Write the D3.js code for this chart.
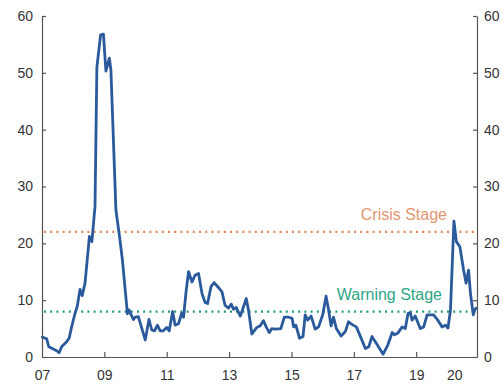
<!DOCTYPE html>
<html>
<head>
<meta charset="utf-8">
<script src="https://cdn.jsdelivr.net/npm/d3@7"></script>
<style>
  html, body { margin: 0; padding: 0; background: #fff; }
  svg { display: block; font-family: "Liberation Sans", Arial, Helvetica, sans-serif; }
</style>
</head>
<body>
<svg id="chart" width="502" height="385"></svg>
<script>
// ---- Data ----
const dates = [
  2007.01, 2007.15, 2007.22, 2007.47, 2007.55, 2007.63, 2007.79, 2007.87, 2007.95,
  2008.06, 2008.13, 2008.22, 2008.29, 2008.38, 2008.52, 2008.60, 2008.70, 2008.76, 2008.88, 2008.97,
  2009.05, 2009.16, 2009.21, 2009.37, 2009.50, 2009.58, 2009.74, 2009.79, 2009.86, 2009.93, 2009.99,
  2010.09, 2010.17, 2010.31, 2010.43, 2010.52, 2010.61, 2010.70, 2010.79, 2010.89,
  2011.00, 2011.08, 2011.19, 2011.27, 2011.38, 2011.48, 2011.54, 2011.62, 2011.70, 2011.81, 2011.91,
  2012.02, 2012.13, 2012.23, 2012.31, 2012.42, 2012.52, 2012.63, 2012.77, 2012.87, 2012.98,
  2013.07, 2013.14, 2013.23, 2013.36, 2013.43, 2013.55, 2013.62, 2013.73, 2013.89,
  2014.00, 2014.10, 2014.19, 2014.29, 2014.37, 2014.48, 2014.66, 2014.77, 2014.91,
  2015.02, 2015.07, 2015.14, 2015.26, 2015.37, 2015.44, 2015.52, 2015.63, 2015.76, 2015.87,
  2016.00, 2016.11, 2016.19, 2016.27, 2016.35, 2016.44, 2016.59, 2016.73, 2016.83, 2016.95,
  2017.08, 2017.19, 2017.37, 2017.48, 2017.58, 2017.69, 2017.94,
  2018.09, 2018.23, 2018.30, 2018.41, 2018.55, 2018.65, 2018.74, 2018.81, 2018.87, 2018.97,
  2019.13, 2019.24, 2019.35, 2019.56, 2019.69, 2019.83, 2019.94,
  2020.02, 2020.10, 2020.21, 2020.29, 2020.40, 2020.52, 2020.60, 2020.68, 2020.74, 2020.83, 2020.88, 2020.92
];
const values = [
  3.5, 3.2, 1.8, 1.1, 0.76, 1.8, 2.7, 3.3, 5.3,
  7.7, 8.9, 11.9, 10.8, 13.0, 21.2, 20.3, 26.5, 51.0, 56.7, 56.8,
  50.3, 52.6, 50.5, 25.9, 20.6, 17.0, 7.6, 8.3, 7.4, 6.6, 7.0,
  7.1, 5.6, 3.0, 6.6, 4.75, 4.6, 5.6, 4.6, 4.6,
  5.2, 4.6, 8.0, 5.6, 5.9, 7.7, 7.0, 11.5, 15.0, 13.2, 14.4,
  14.7, 11.2, 9.6, 9.4, 12.4, 13.1, 12.4, 11.5, 9.1, 8.6,
  9.3, 8.4, 8.7, 7.2, 8.3, 10.3, 8.3, 4.05, 5.2,
  5.5, 6.4, 5.3, 4.3, 5.0, 4.9, 5.0, 7.0, 7.0,
  6.8, 5.3, 5.6, 3.3, 3.6, 7.4, 6.5, 7.2, 4.9, 5.3,
  7.4, 10.7, 8.3, 5.5, 7.0, 5.0, 3.7, 4.5, 6.2, 5.7,
  5.3, 3.9, 1.5, 1.8, 3.6, 2.7, 0.5,
  2.1, 4.3, 3.9, 4.2, 5.3, 5.0, 7.7, 7.8, 6.5, 7.2,
  5.0, 5.3, 7.4, 7.4, 6.5, 5.3, 5.6,
  5.1, 8.3, 23.9, 20.3, 19.4, 15.3, 13.0, 15.3, 11.2, 7.4, 8.3, 8.6
];
const yTicks = [0, 10, 20, 30, 40, 50, 60];
const xTickValues = [2007, 2009, 2011, 2013, 2015, 2017, 2019, 2020.22];
const xTickLabels = ["07", "09", "11", "13", "15", "17", "19", "20"];
const thresholds = [22, 8];
const thresholdLabels = ["Crisis Stage", "Warning Stage"];

// ---- Layout ----
const svg = d3.select("#chart");
const x = d3.scaleLinear().domain([2007, 2020.95]).range([42, 477]);
const y = d3.scaleLinear().domain([0, 60]).range([357, 16]);

const axisColor = "#555";
const textColor = "#333";
const lineColor = "#2b5a9c";
const crisisLine = "#e0875a";
const crisisText = "#e39570";
const warnLine = "#1e9a78";
const warnText = "#2ea587";

// threshold lines
const thrColors = [crisisLine, warnLine];
svg.selectAll("line.thr").data(thresholds).join("line")
  .attr("class", "thr")
  .attr("x1", x(2007) + 2).attr("x2", x.range()[1] - 1)
  .attr("y1", d => y(d)).attr("y2", d => y(d))
  .attr("stroke", (d, i) => thrColors[i])
  .attr("stroke-width", 2.2)
  .attr("stroke-dasharray", "2,4.2");

// threshold labels
const thrTextColors = [crisisText, warnText];
const thrTextRight = [447, 442];
svg.selectAll("text.thr").data(thresholds).join("text")
  .attr("class", "thr")
  .attr("x", (d, i) => thrTextRight[i])
  .attr("y", d => y(d) - 12)
  .attr("text-anchor", "end")
  .attr("fill", (d, i) => thrTextColors[i])
  .style("font-size", "16px")
  .text((d, i) => thresholdLabels[i]);

// line
const data = dates.map((d, i) => [d, values[i]]);
svg.append("path")
  .datum(data)
  .attr("fill", "none")
  .attr("stroke", lineColor)
  .attr("stroke-width", 2.8)
  .attr("stroke-linejoin", "round")
  .attr("stroke-linecap", "round")
  .attr("d", d3.line().x(d => x(d[0])).y(d => y(d[1])));

// axes
function styleAxis(g) {
  g.selectAll(".domain").attr("stroke", axisColor).attr("stroke-width", 1.2);
  g.selectAll(".tick line").attr("stroke", axisColor).attr("stroke-width", 1.2);
  g.selectAll("text").attr("fill", textColor).style("font-size", "14px")
    .style("font-family", "'Liberation Sans', Arial, Helvetica, sans-serif");
}

const gLeft = svg.append("g").attr("transform", `translate(${x.range()[0]},0)`)
  .call(d3.axisLeft(y).tickValues(yTicks).tickSize(-4).tickSizeOuter(0).tickPadding(9));
styleAxis(gLeft);

const gRight = svg.append("g").attr("transform", `translate(${x.range()[1]},0)`)
  .call(d3.axisRight(y).tickValues(yTicks).tickSize(-4).tickSizeOuter(0).tickPadding(7));
styleAxis(gRight);

const gBottom = svg.append("g").attr("transform", `translate(0,${y(0)})`)
  .call(d3.axisBottom(x).tickValues(xTickValues)
    .tickFormat((d, i) => xTickLabels[i]).tickSize(-5).tickSizeOuter(0).tickPadding(13));
styleAxis(gBottom);
gBottom.selectAll(".tick").filter(d => d === 2007 || d === 2020.22).select("line").remove();
</script>
</body>
</html>
